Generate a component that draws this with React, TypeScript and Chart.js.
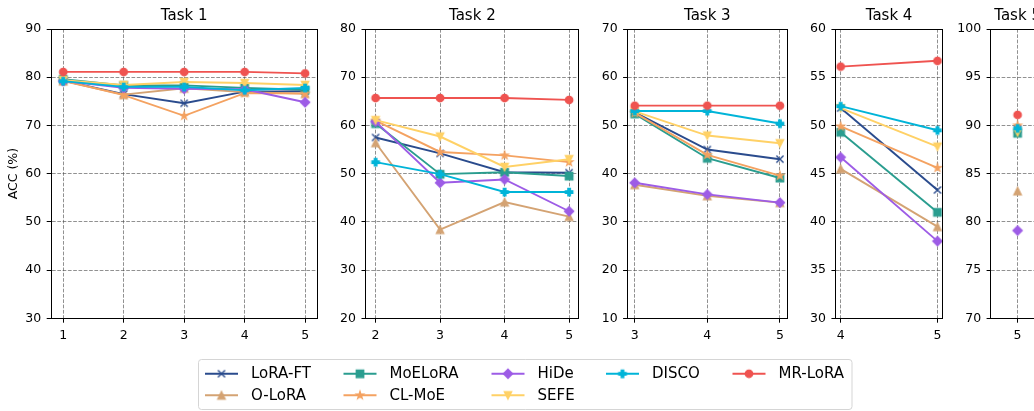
import React, { useEffect, useRef } from 'react';
import { Chart, registerables } from 'chart.js';

Chart.register(...registerables);

const FONT_FAMILY = "'DejaVu Sans', 'Liberation Sans', sans-serif";

// ---------- data ----------
const taskTitles = ['Task 1', 'Task 2', 'Task 3', 'Task 4', 'Task 5'];
const taskSteps = [[1, 2, 3, 4, 5], [2, 3, 4, 5], [3, 4, 5], [4, 5], [5]];
const yMins = [30, 20, 10, 30, 70];
const yMaxs = [90, 80, 70, 60, 100];
const yStepSizes = [10, 10, 10, 5, 5];
const yAxisLabel = 'ACC (%)';

const seriesNames = ['LoRA-FT', 'O-LoRA', 'MoELoRA', 'CL-MoE', 'HiDe', 'SEFE', 'DISCO', 'MR-LoRA'];
const seriesColors = ['#2a4b8d', '#d4a373', '#2a9d8f', '#f4a261', '#9d5ce6', '#ffd166', '#00b4d8', '#ef5350'];
const seriesMarkers = ['x', '^', 's', '*', 'D', 'v', 'P', 'o'];

const loraFT = [
  [79.3, 76.5, 74.6, 77.0, 77.1],
  [57.5, 54.2, 50.3, 50.2],
  [52.7, 45.0, 43.0],
  [51.8, 43.3],
  [89.6],
];
const oLoRA = [
  [79.2, 76.4, 77.7, 76.9, 76.6],
  [56.4, 38.4, 44.1, 41.1],
  [37.7, 35.4, 34.0],
  [45.5, 39.5],
  [83.2],
];
const moELoRA = [
  [79.6, 78.3, 78.3, 77.8, 77.4],
  [60.4, 49.9, 50.3, 49.5],
  [52.4, 43.2, 39.1],
  [49.3, 41.0],
  [89.2],
];
const clMoE = [
  [79.3, 76.3, 72.0, 76.7, 76.6],
  [61.0, 54.5, 53.8, 52.4],
  [52.6, 43.9, 39.6],
  [49.9, 45.6],
  [90.0],
];
const hiDe = [
  [79.2, 77.8, 77.6, 77.5, 74.8],
  [60.8, 48.1, 48.8, 42.2],
  [38.1, 35.7, 34.0],
  [46.7, 38.0],
  [79.1],
];
const sefe = [
  [79.4, 78.4, 79.0, 78.8, 78.4],
  [61.1, 57.7, 51.4, 53.0],
  [52.9, 47.9, 46.3],
  [51.8, 47.8],
  [89.3],
];
const disco = [
  [79.2, 78.0, 78.0, 77.3, 77.8],
  [52.4, 49.9, 46.2, 46.2],
  [53.0, 53.0, 50.4],
  [52.0, 49.5],
  [89.7],
];
const mrLoRA = [
  [81.1, 81.1, 81.1, 81.1, 80.8],
  [65.7, 65.7, 65.7, 65.3],
  [54.1, 54.1, 54.1],
  [56.1, 56.7],
  [91.1],
];
const seriesValues = [loraFT, oLoRA, moELoRA, clMoE, hiDe, sefe, disco, mrLoRA];

// ---------- layout ----------
const FIG_W = 1034;
const FIG_H = 411;
const SUB_H = 345;
const PLOT_BOTTOM = 318.3;
const UNIT_W = 53.22;
const GAP_W = 48.7;
const FIRST_LEFT = 51.1;
const widthRatios = [5, 4, 3, 2, 1];
const GRID_COLOR = 'rgba(70,70,70,0.75)';

const plotLefts: number[] = [];
{
  let l = FIRST_LEFT;
  for (let i = 0; i < widthRatios.length; i++) {
    plotLefts.push(l);
    l += widthRatios[i] * UNIT_W + GAP_W;
  }
}

// ---------- markers ----------
function makeMarker(kind: string, color: string): HTMLCanvasElement {
  const size = 16;
  const c = document.createElement('canvas');
  c.width = size;
  c.height = size;
  const ctx = c.getContext('2d') as CanvasRenderingContext2D;
  const cx = size / 2;
  const cy = size / 2;
  const s = 7.5;
  const h = s / 2;
  ctx.fillStyle = color;
  ctx.strokeStyle = color;
  ctx.lineWidth = 1.25;
  ctx.lineJoin = 'miter';
  ctx.beginPath();
  if (kind === 'o') {
    ctx.arc(cx, cy, h, 0, Math.PI * 2);
  } else if (kind === 's') {
    ctx.rect(cx - h, cy - h, s, s);
  } else if (kind === '^') {
    ctx.moveTo(cx, cy - h);
    ctx.lineTo(cx + h, cy + h);
    ctx.lineTo(cx - h, cy + h);
    ctx.closePath();
  } else if (kind === 'v') {
    ctx.moveTo(cx, cy + h);
    ctx.lineTo(cx + h, cy - h);
    ctx.lineTo(cx - h, cy - h);
    ctx.closePath();
  } else if (kind === 'D') {
    const d = s * 0.62;
    ctx.moveTo(cx, cy - d);
    ctx.lineTo(cx + d, cy);
    ctx.lineTo(cx, cy + d);
    ctx.lineTo(cx - d, cy);
    ctx.closePath();
  } else if (kind === '*') {
    const outer = h * 1.05;
    const inner = outer * 0.382;
    for (let i = 0; i < 10; i++) {
      const r = i % 2 === 0 ? outer : inner;
      const a = -Math.PI / 2 + (i * Math.PI) / 5;
      const px = cx + r * Math.cos(a);
      const py = cy + r * Math.sin(a);
      if (i === 0) ctx.moveTo(px, py);
      else ctx.lineTo(px, py);
    }
    ctx.closePath();
  } else if (kind === 'P') {
    const a = s / 6;
    ctx.moveTo(cx - a, cy - h);
    ctx.lineTo(cx + a, cy - h);
    ctx.lineTo(cx + a, cy - a);
    ctx.lineTo(cx + h, cy - a);
    ctx.lineTo(cx + h, cy + a);
    ctx.lineTo(cx + a, cy + a);
    ctx.lineTo(cx + a, cy + h);
    ctx.lineTo(cx - a, cy + h);
    ctx.lineTo(cx - a, cy + a);
    ctx.lineTo(cx - h, cy + a);
    ctx.lineTo(cx - h, cy - a);
    ctx.lineTo(cx - a, cy - a);
    ctx.closePath();
  } else if (kind === 'x') {
    const k = h * 0.95;
    ctx.moveTo(cx - k, cy - k);
    ctx.lineTo(cx + k, cy + k);
    ctx.moveTo(cx + k, cy - k);
    ctx.lineTo(cx - k, cy + k);
    ctx.lineWidth = 1.4;
  }
  if (kind !== 'x') ctx.fill();
  ctx.stroke();
  return c;
}

const framePlugin = {
  id: 'frame',
  afterDraw(chart: any) {
    const { ctx, chartArea: a } = chart;
    const l = Math.round(a.left - 0.5) + 0.5;
    const r = Math.round(a.right - 0.5) + 0.5;
    const t = Math.round(a.top - 0.5) + 0.5;
    const b = Math.round(a.bottom - 0.5) + 0.5;
    ctx.save();
    ctx.strokeStyle = '#000';
    ctx.lineWidth = 1;
    ctx.strokeRect(l, t, r - l, b - t);
    ctx.restore();
  },
};

function Subplot({ t }: { t: number }) {
  const ref = useRef<HTMLCanvasElement>(null);
  const left = plotLefts[t];
  const plotW = widthRatios[t] * UNIT_W;
  const canvasLeft = t === 0 ? 0 : Math.floor(left - 40);
  const yW = left - canvasLeft;
  const canvasW = Math.ceil(yW + plotW + 10);
  const padR = canvasW - yW - plotW;

  useEffect(() => {
    const xs = taskSteps[t];
    const n = xs.length;
    const span = n > 1 ? xs[n - 1] - xs[0] : 1;
    const xMin = xs[0] - 0.05 * span;
    const xMax = xs[n - 1] + 0.05 * span;
    const tickFont = { family: FONT_FAMILY, size: 12.5 };
    const N = seriesNames.length;
    const datasets = seriesNames.map((name, i) => ({
      label: name,
      data: xs.map((x, k) => ({ x, y: seriesValues[i][t][k] })),
      borderColor: seriesColors[i],
      backgroundColor: seriesColors[i],
      borderWidth: 1.9,
      pointStyle: makeMarker(seriesMarkers[i], seriesColors[i]),
      pointRadius: 4,
      pointHoverRadius: 4,
      tension: 0,
      fill: false,
      order: N - 1 - i,
      clip: false,
    }));
    const chart = new Chart(ref.current as HTMLCanvasElement, {
      type: 'line',
      data: { datasets } as any,
      options: {
        responsive: false,
        animation: false,
        events: [],
        layout: { padding: { left: 0, right: padR, top: 0, bottom: 0 } },
        plugins: {
          legend: { display: false },
          tooltip: { enabled: false },
          title: {
            display: true,
            text: taskTitles[t],
            fullSize: false,
            color: '#000',
            font: { family: FONT_FAMILY, size: 15, weight: 'normal', lineHeight: 1.2 },
            padding: { top: 7, bottom: 4 },
          },
        },
        scales: {
          x: {
            type: 'linear',
            min: xMin,
            max: xMax,
            afterBuildTicks: (scale: any) => {
              scale.ticks = xs.map((v) => ({ value: v }));
            },
            afterFit: (scale: any) => {
              scale.height = SUB_H - PLOT_BOTTOM;
            },
            ticks: { font: tickFont, color: '#000', padding: 6, maxRotation: 0, autoSkip: false },
            grid: { color: GRID_COLOR, lineWidth: 0.8, tickColor: '#000', tickLength: 4.4, tickWidth: 1, tickBorderDash: [] },
            border: { display: true, color: '#000', width: 1, dash: [3.7, 1.6] },
          },
          y: {
            type: 'linear',
            min: yMins[t],
            max: yMaxs[t],
            afterFit: (scale: any) => {
              scale.width = yW;
            },
            ticks: { font: tickFont, color: '#000', padding: 5.5, stepSize: yStepSizes[t] },
            grid: { color: GRID_COLOR, lineWidth: 0.8, tickColor: '#000', tickLength: 4.4, tickWidth: 1, tickBorderDash: [] },
            border: { display: true, color: '#000', width: 1, dash: [3.7, 1.6] },
            title: {
              display: t === 0,
              text: yAxisLabel,
              color: '#000',
              font: { family: FONT_FAMILY, size: 12.5, lineHeight: 1.2 },
              padding: { top: 6.5, bottom: 0 },
            },
          },
        },
      } as any,
      plugins: [framePlugin],
    });
    return () => chart.destroy();
  }, [t]);

  return (
    <canvas
      ref={ref}
      width={canvasW}
      height={SUB_H}
      style={{ position: 'absolute', left: canvasLeft, top: 0, width: canvasW, height: SUB_H }}
    />
  );
}

// ---------- legend ----------
const LEGEND_TOP = 345;
const LEGEND_H = FIG_H - LEGEND_TOP;
const legendColX = [205, 343.5, 491.5, 606, 732.5];
const legendRowY = [28.7, 50.3];
// column-major fill with 5 columns: column heights 2,2,2,1,1
const legendCols = [0, 0, 1, 1, 2, 2, 3, 4];
const legendRows = [0, 1, 0, 1, 0, 1, 0, 0];

const legendPlugin = {
  id: 'gridLegend',
  afterDraw(chart: any) {
    const { ctx } = chart;
    const ds = chart.data.datasets;
    ctx.save();
    const bx = 198.5, by = 14.5, bw = 653.5, bh = 50;
    const r = 3;
    ctx.beginPath();
    ctx.moveTo(bx + r, by);
    ctx.lineTo(bx + bw - r, by);
    ctx.quadraticCurveTo(bx + bw, by, bx + bw, by + r);
    ctx.lineTo(bx + bw, by + bh - r);
    ctx.quadraticCurveTo(bx + bw, by + bh, bx + bw - r, by + bh);
    ctx.lineTo(bx + r, by + bh);
    ctx.quadraticCurveTo(bx, by + bh, bx, by + bh - r);
    ctx.lineTo(bx, by + r);
    ctx.quadraticCurveTo(bx, by, bx + r, by);
    ctx.closePath();
    ctx.fillStyle = 'rgba(255,255,255,0.8)';
    ctx.fill();
    ctx.strokeStyle = '#d5d5d5';
    ctx.lineWidth = 1;
    ctx.stroke();
    ctx.font = `15px ${FONT_FAMILY}`;
    ctx.textBaseline = 'middle';
    ctx.textAlign = 'left';
    ds.forEach((d: any, k: number) => {
      const x0 = legendColX[legendCols[k]];
      const y = legendRowY[legendRows[k]];
      ctx.beginPath();
      ctx.strokeStyle = d.borderColor;
      ctx.lineWidth = d.borderWidth;
      ctx.moveTo(x0, y);
      ctx.lineTo(x0 + 33, y);
      ctx.stroke();
      const img = d.pointStyle as HTMLCanvasElement;
      ctx.drawImage(img, x0 + 16.5 - img.width / 2, y - img.height / 2);
      ctx.fillStyle = '#000';
      ctx.fillText(d.label, x0 + 46, y + 0.5);
    });
    ctx.restore();
  },
};

function LegendCanvas() {
  const ref = useRef<HTMLCanvasElement>(null);
  useEffect(() => {
    const chart = new Chart(ref.current as HTMLCanvasElement, {
      type: 'line',
      data: {
        datasets: seriesNames.map((name, i) => ({
          label: name,
          data: [],
          borderColor: seriesColors[i],
          backgroundColor: seriesColors[i],
          borderWidth: 1.9,
          pointStyle: makeMarker(seriesMarkers[i], seriesColors[i]),
        })),
      } as any,
      options: {
        responsive: false,
        animation: false,
        events: [],
        scales: { x: { display: false }, y: { display: false } },
        plugins: { legend: { display: false }, tooltip: { enabled: false } },
      } as any,
      plugins: [legendPlugin],
    });
    return () => chart.destroy();
  }, []);
  return (
    <canvas
      ref={ref}
      width={FIG_W}
      height={LEGEND_H}
      style={{ position: 'absolute', left: 0, top: LEGEND_TOP, width: FIG_W, height: LEGEND_H }}
    />
  );
}

export default function App() {
  return (
    <div
      style={{
        position: 'fixed',
        left: 0,
        top: 0,
        width: FIG_W,
        height: FIG_H,
        overflow: 'hidden',
        background: '#fff',
      }}
    >
      {taskTitles.map((_, t) => (
        <Subplot key={t} t={t} />
      ))}
      <LegendCanvas />
    </div>
  );
}
